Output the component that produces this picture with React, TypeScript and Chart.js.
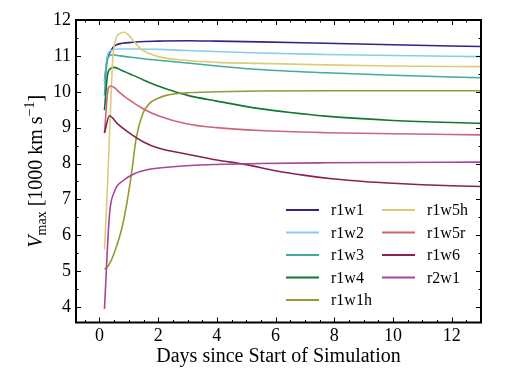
import React, { useEffect, useRef } from "react";
import { Chart, registerables } from "chart.js";

Chart.register(...registerables);

// ---- Data ----
const SERIES_NAMES = ["r1w1", "r1w2", "r1w3", "r1w4", "r1w1h", "r1w5h", "r1w5r", "r1w6", "r2w1"];
const SERIES_COLORS = ["#332288", "#88CCEE", "#44AA99", "#117733", "#999933", "#DDCC77", "#CC6677", "#882255", "#AA4499"];

const r1w1Days = [0.17, 0.27, 0.34, 0.51, 1.0, 2, 3, 4, 5.45, 7.7, 10, 13];
const r1w1Vmax = [10.3, 10.95, 11.07, 11.28, 11.37, 11.41, 11.42, 11.41, 11.39, 11.35, 11.31, 11.26];

const r1w2Days = [0.17, 0.27, 0.4, 0.68, 1.2, 2, 3, 5.45, 7.7, 10, 13];
const r1w2Vmax = [10.2, 11.0, 11.15, 11.19, 11.19, 11.18, 11.15, 11.08, 11.04, 11.01, 10.98];

const r1w3Days = [0.17, 0.27, 0.45, 0.7, 1, 1.5, 2, 3, 4, 5.45, 7.7, 10, 13];
const r1w3Vmax = [9.9, 10.9, 11.03, 11.0, 10.97, 10.92, 10.88, 10.8, 10.72, 10.62, 10.53, 10.46, 10.39];

const r1w4Days = [0.17, 0.27, 0.34, 0.51, 0.75, 1, 1.5, 2, 2.5, 3, 4, 5.45, 6.5, 7.7, 10, 13];
const r1w4Vmax = [9.49, 10.45, 10.62, 10.68, 10.6, 10.51, 10.33, 10.16, 10.02, 9.9, 9.74, 9.53, 9.42, 9.32, 9.2, 9.12];

const r1w1hDays = [0.17, 0.3, 0.5, 0.8, 1.08, 1.25, 1.48, 1.7, 2.0, 2.27, 2.95, 4, 5.45, 7.7, 10, 13];
const r1w1hVmax = [5.05, 5.15, 5.5, 6.33, 7.65, 8.7, 9.4, 9.67, 9.82, 9.9, 9.97, 10.0, 10.02, 10.03, 10.03, 10.03];

const r1w5hDays = [0.17, 0.28, 0.38, 0.45, 0.55, 0.7, 0.85, 1.0, 1.2, 1.36, 1.6, 2, 3, 4, 5.45, 7.7, 10, 13];
const r1w5hVmax = [5.6, 7.5, 9.6, 10.9, 11.45, 11.63, 11.66, 11.57, 11.38, 11.23, 11.1, 10.98, 10.87, 10.82, 10.79, 10.75, 10.72, 10.7];

const r1w5rDays = [0.17, 0.3, 0.37, 0.5, 0.7, 1, 1.5, 2, 3, 4, 5.45, 7.7, 10, 13];
const r1w5rVmax = [8.85, 10.1, 10.16, 10.12, 9.97, 9.78, 9.52, 9.33, 9.1, 9.0, 8.92, 8.86, 8.83, 8.8];

const r1w6Days = [0.17, 0.34, 0.6, 1, 1.5, 2, 3, 4, 5, 6, 7, 8, 9, 10, 11, 12, 13];
const r1w6Vmax = [8.85, 9.33, 9.12, 8.86, 8.6, 8.43, 8.26, 8.1, 7.97, 7.8, 7.67, 7.57, 7.5, 7.45, 7.41, 7.38, 7.36];

const r2w1Days = [0.17, 0.34, 0.51, 0.8, 1.2, 1.7, 2.5, 3.4, 5.45, 7.7, 10, 13];
const r2w1Vmax = [3.95, 6.57, 7.22, 7.52, 7.72, 7.84, 7.91, 7.96, 8.0, 8.02, 8.03, 8.04];

const SERIES_DAYS = [r1w1Days, r1w2Days, r1w3Days, r1w4Days, r1w1hDays, r1w5hDays, r1w5rDays, r1w6Days, r2w1Days];
const SERIES_VMAX = [r1w1Vmax, r1w2Vmax, r1w3Vmax, r1w4Vmax, r1w1hVmax, r1w5hVmax, r1w5rVmax, r1w6Vmax, r2w1Vmax];

const X_TICKS = [0, 2, 4, 6, 8, 10, 12];
const Y_TICKS = [4, 5, 6, 7, 8, 9, 10, 11, 12];
const X_MIN = -0.8;
const X_MAX = 13;
const Y_MIN = 3.57;
const Y_MAX = 12;
const X_TITLE = "Days since Start of Simulation";

const FONT = '"Liberation Serif", "DejaVu Serif", serif';

// ---- Plugins ----
const framePlugin = {
  id: "frameTicks",
  afterDatasetsDraw(chart: any) {
    const { ctx, chartArea: a, scales } = chart;
    const xs = scales.x;
    const ys = scales.y;
    ctx.save();
    ctx.strokeStyle = "#000";
    ctx.lineWidth = 1;
    const major = 5;
    const minor = 2.5;
    ctx.beginPath();
    const xMaj = xs.ticks.map((t: any) => t.value);
    const yMaj = ys.ticks.map((t: any) => t.value);
    for (let v = Math.ceil(xs.min * 2) / 2; v <= xs.max + 1e-9; v += 0.5) {
      const isMaj = xMaj.some((m: number) => Math.abs(m - v) < 1e-6);
      const L = isMaj ? major : minor;
      const px = Math.round(xs.getPixelForValue(v)) + 0.5;
      ctx.moveTo(px, a.bottom);
      ctx.lineTo(px, a.bottom - L);
      ctx.moveTo(px, a.top);
      ctx.lineTo(px, a.top + L);
    }
    for (let v = Math.ceil(ys.min * 2) / 2; v <= ys.max + 1e-9; v += 0.5) {
      const isMaj = yMaj.some((m: number) => Math.abs(m - v) < 1e-6);
      const L = isMaj ? major : minor;
      const py = Math.round(ys.getPixelForValue(v)) + 0.5;
      ctx.moveTo(a.left, py);
      ctx.lineTo(a.left + L, py);
      ctx.moveTo(a.right, py);
      ctx.lineTo(a.right - L, py);
    }
    ctx.stroke();
    ctx.lineWidth = 2;
    ctx.strokeRect(a.left, a.top, a.right - a.left, a.bottom - a.top);
    ctx.restore();
  },
};

const legendPlugin = {
  id: "insideLegend",
  afterDatasetsDraw(chart: any) {
    const { ctx, chartArea: a } = chart;
    const rows = 5;
    const rowH = 22.5;
    const y0 = a.bottom - 112.5;
    const colX = [a.right - 195, a.right - 99];
    ctx.save();
    ctx.font = `16px ${FONT}`;
    ctx.textBaseline = "middle";
    ctx.textAlign = "left";
    SERIES_NAMES.forEach((name, i) => {
      const col = Math.floor(i / rows);
      const row = i % rows;
      const x = colX[col];
      const y = y0 + row * rowH;
      ctx.strokeStyle = SERIES_COLORS[i];
      ctx.lineWidth = 2;
      ctx.beginPath();
      ctx.moveTo(x, y);
      ctx.lineTo(x + 33, y);
      ctx.stroke();
      ctx.fillStyle = "#000";
      ctx.fillText(name, x + 45, y + 1);
    });
    ctx.restore();
  },
};

const yTitlePlugin = {
  id: "yTitleRich",
  afterDraw(chart: any) {
    const { ctx, chartArea: a } = chart;
    const cy = (a.top + a.bottom) / 2;
    const cx = 35;
    const big = `20px ${FONT}`;
    const small = `14px ${FONT}`;
    const segs = [
      { t: "V", f: `italic ${big}`, dy: 0 },
      { t: "max", f: small, dy: 4 },
      { t: " [1000 km s", f: big, dy: 0 },
      { t: "\u22121", f: small, dy: -8 },
      { t: "]", f: big, dy: 0 },
    ];
    ctx.save();
    ctx.translate(cx, cy);
    ctx.rotate(-Math.PI / 2);
    ctx.fillStyle = "#000";
    ctx.textBaseline = "alphabetic";
    ctx.textAlign = "left";
    let total = 0;
    const widths = segs.map((s) => {
      ctx.font = s.f;
      const w = ctx.measureText(s.t).width;
      total += w;
      return w;
    });
    let x = -total / 2;
    segs.forEach((s, i) => {
      ctx.font = s.f;
      ctx.fillText(s.t, x, 6.7 + s.dy);
      x += widths[i];
    });
    ctx.restore();
  },
};

export default function App() {
  const ref = useRef<HTMLCanvasElement | null>(null);

  useEffect(() => {
    if (!ref.current) return;
    const datasets = SERIES_NAMES.map((name, i) => ({
      label: name,
      data: SERIES_DAYS[i].map((d, j) => ({ x: d, y: SERIES_VMAX[i][j] })),
      borderColor: SERIES_COLORS[i],
      backgroundColor: SERIES_COLORS[i],
      borderWidth: 1.6,
      pointRadius: 0,
      fill: false,
      cubicInterpolationMode: "monotone" as const,
      order: -i,
    }));
    const chart = new Chart(ref.current, {
      type: "line",
      data: { datasets },
      options: {
        animation: false,
        responsive: false,
        events: [],
        layout: { padding: { top: 20, right: 26, left: 0, bottom: 0 } },
        plugins: { legend: { display: false }, tooltip: { enabled: false } },
        scales: {
          x: {
            type: "linear",
            min: X_MIN,
            max: X_MAX,
            grid: { display: false, drawTicks: false },
            border: { display: false },
            afterBuildTicks: (s: any) => {
              s.ticks = X_TICKS.map((v) => ({ value: v }));
            },
            afterFit: (s: any) => {
              s.height = 57.5;
            },
            ticks: {
              color: "#000",
              font: { family: FONT, size: 18 },
              padding: 3,
              maxRotation: 0,
              autoSkip: false,
            },
            title: {
              display: true,
              text: X_TITLE,
              color: "#000",
              font: { family: FONT, size: 20 },
              padding: { top: 0, bottom: 11 },
            },
          },
          y: {
            type: "linear",
            min: Y_MIN,
            max: Y_MAX,
            grid: { display: false, drawTicks: false },
            border: { display: false },
            afterBuildTicks: (s: any) => {
              s.ticks = Y_TICKS.map((v) => ({ value: v }));
            },
            afterFit: (s: any) => {
              s.width = 76;
            },
            ticks: {
              color: "#000",
              font: { family: FONT, size: 18 },
              padding: 5,
              autoSkip: false,
            },
          },
        },
      },
      plugins: [framePlugin, legendPlugin, yTitlePlugin],
    });
    return () => chart.destroy();
  }, []);

  return (
    <div style={{ position: "fixed", left: 0, top: 0, width: 507, height: 380, background: "#fff" }}>
      <canvas ref={ref} width={507} height={380} style={{ width: 507, height: 380 }} />
    </div>
  );
}
